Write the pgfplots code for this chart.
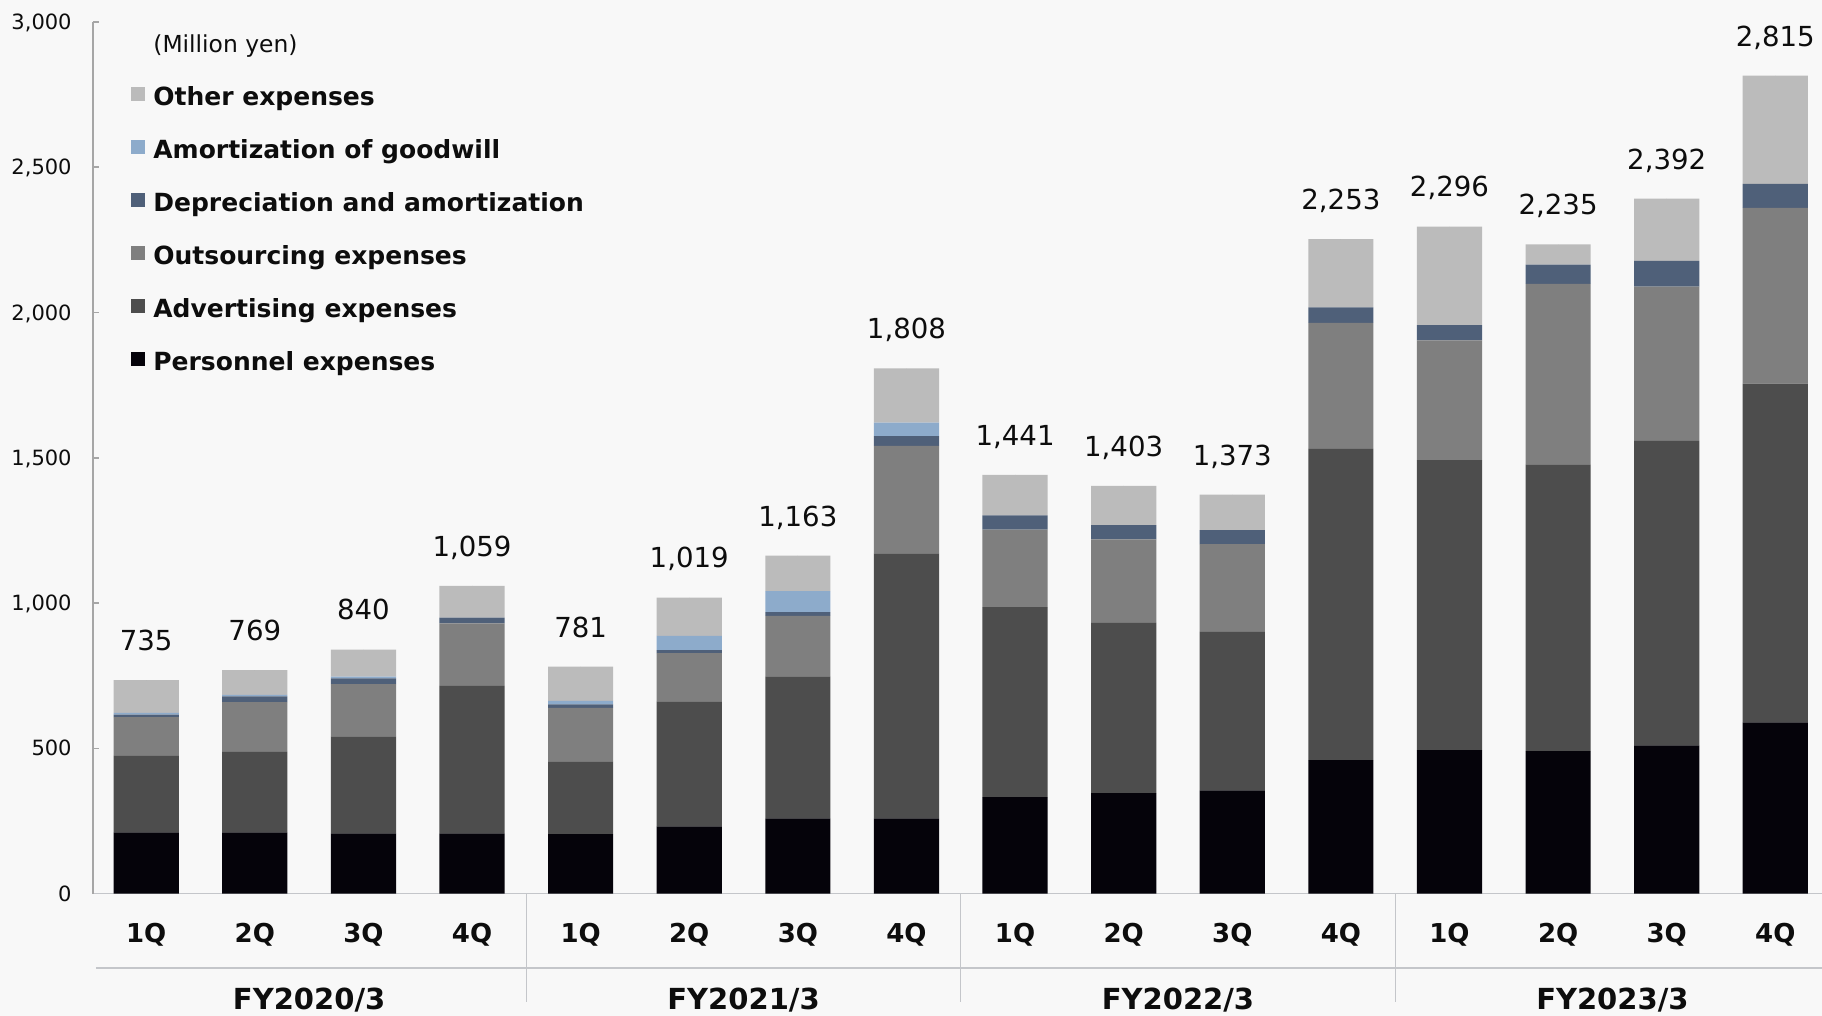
\documentclass[border=0pt]{standalone}
\usepackage{pgfplots}
\pgfplotsset{compat=1.18}
\usepackage{pgfplotstable}
\usepackage{fontspec}
\setmainfont{DejaVu Sans}

\definecolor{bgc}{HTML}{F8F8F8}
\definecolor{pers}{HTML}{05030A}
\definecolor{adv}{HTML}{4D4D4D}
\definecolor{outs}{HTML}{7F7F7F}
\definecolor{dep}{HTML}{4F6079}
\definecolor{gw}{HTML}{8DABCB}
\definecolor{oth}{HTML}{BBBBBB}
\definecolor{yaxc}{HTML}{A6A6A6}
\definecolor{xaxc}{HTML}{C4C6CA}
\definecolor{txt}{HTML}{0D0D0D}

\pgfplotstableread{
x pers adv outs dep gw other total
0 211 263 133 9 6 113 735
1 211 277 171 20 5 85 769
2 207 334 180 20 6 93 840
3 207 508 215 20 0 109 1059
4 205 250 184 12 12 118 781
5 231 431 166 10 49 132 1019
6 259 489 208 13 72 122 1163
7 259 912 370 34 46 187 1808
8 332 654 267 49 0 139 1441
9 346 586 287 49 0 135 1403
10 355 546 302 48 0 122 1373
11 459 1072 433 54 0 235 2253
12 494 998 412 53 0 339 2296
13 490 987 622 66 0 70 2235
14 510 1048 531 89 0 214 2392
15 589 1166 605 83 0 372 2815
}\datatable

\begin{document}
\begin{tikzpicture}
\path[use as bounding box, fill=bgc] (-46.5pt,-61.2pt) rectangle (864.5pt,446.8pt);
\begin{axis}[
  scale only axis, width=864.5pt, height=435.8pt,
  xmin=-0.49, xmax=15.43, ymin=0, ymax=3000,
  ybar stacked, bar width=0.6,
  axis x line*=bottom, axis y line*=left,
  x axis line style={color=xaxc, line width=0.9pt},
  y axis line style={color=yaxc, line width=0.8pt},
  xtick=data,
  xticklabels={1Q,2Q,3Q,4Q,1Q,2Q,3Q,4Q,1Q,2Q,3Q,4Q,1Q,2Q,3Q,4Q},
  xtick style={draw=none},
  xticklabel style={anchor=base, yshift=-24.5pt, inner sep=0pt, text=txt, font=\fontsize{13}{15}\selectfont\bfseries},
  ytick={0,500,...,3000},
  ytick style={color=yaxc, line width=0.8pt},
  major tick length=3pt, tick align=inside,
  yticklabel style={anchor=base east, xshift=-10.5pt, yshift=-3.83pt, inner sep=0pt, text=txt, font=\fontsize{10.5}{12}\selectfont},
  scaled y ticks=false,
  /pgf/number format/assume math mode=true,
  /pgf/number format/1000 sep={,},
  clip=false,
  reverse legend,
  legend cell align=left,
  legend style={draw=none, fill=none, at={(0,1)}, anchor=north west, xshift=19pt, yshift=-32pt,
    inner sep=0pt, row sep=14pt, column sep=4pt, text=txt, font=\fontsize{12.5}{15}\selectfont\bfseries,
    nodes={inner sep=0pt, text height=9.5pt, text depth=3pt}},
  legend image code/.code={\fill[#1] (0pt,-1.3pt) rectangle (7pt,5.7pt);},
]
\addplot[fill=pers, draw=none] table[x=x, y=pers]{\datatable};
\addlegendentry{Personnel expenses}
\addplot[fill=adv, draw=none] table[x=x, y=adv]{\datatable};
\addlegendentry{Advertising expenses}
\addplot[fill=outs, draw=none] table[x=x, y=outs]{\datatable};
\addlegendentry{Outsourcing expenses}
\addplot[fill=dep, draw=none] table[x=x, y=dep]{\datatable};
\addlegendentry{Depreciation and amortization}
\addplot[fill=gw, draw=none] table[x=x, y=gw]{\datatable};
\addlegendentry{Amortization of goodwill}
\addplot[fill=oth, draw=none] table[x=x, y=other]{\datatable};
\addlegendentry{Other expenses}

\node[anchor=base west, inner sep=0pt, text=txt, font=\fontsize{11.7}{14}\selectfont] at ([xshift=30pt,yshift=-15.3pt]rel axis cs:0,1) {(Million yen)};

\draw[xaxc, line width=1pt] ([xshift=1.5pt,yshift=-37.2pt]rel axis cs:0,0) -- ([yshift=-37.2pt]rel axis cs:1,0);
\draw[xaxc, line width=0.6pt] (axis cs:3.5,0) -- ([yshift=-54pt]axis cs:3.5,0);
\draw[xaxc, line width=0.6pt] (axis cs:7.5,0) -- ([yshift=-54pt]axis cs:7.5,0);
\draw[xaxc, line width=0.6pt] (axis cs:11.5,0) -- ([yshift=-54pt]axis cs:11.5,0);
\node[anchor=base, inner sep=0pt, text=txt, font=\fontsize{14.5}{16}\selectfont\bfseries] at ([yshift=-58.2pt]axis cs:1.5,0) {FY2020/3};
\node[anchor=base, inner sep=0pt, text=txt, font=\fontsize{14.5}{16}\selectfont\bfseries] at ([yshift=-58.2pt]axis cs:5.5,0) {FY2021/3};
\node[anchor=base, inner sep=0pt, text=txt, font=\fontsize{14.5}{16}\selectfont\bfseries] at ([yshift=-58.2pt]axis cs:9.5,0) {FY2022/3};
\node[anchor=base, inner sep=0pt, text=txt, font=\fontsize{14.5}{16}\selectfont\bfseries] at ([yshift=-58.2pt]axis cs:13.5,0) {FY2023/3};
\end{axis}
\begin{axis}[
  scale only axis, width=864.5pt, height=435.8pt,
  xmin=-0.49, xmax=15.43, ymin=0, ymax=3000,
  hide axis, clip=false,
  /pgf/number format/assume math mode=true,
  /pgf/number format/1000 sep={,},
]
\addplot[only marks, mark=*, mark size=0pt, mark options={draw=none, fill=none}, nodes near coords,
  every node near coord/.append style={anchor=south, inner sep=0pt, text depth=0pt, yshift=14.6pt, text=txt, font=\fontsize{13.8}{16}\selectfont}]
  table[x=x, y=total]{\datatable};
\end{axis}
\end{tikzpicture}
\end{document}
